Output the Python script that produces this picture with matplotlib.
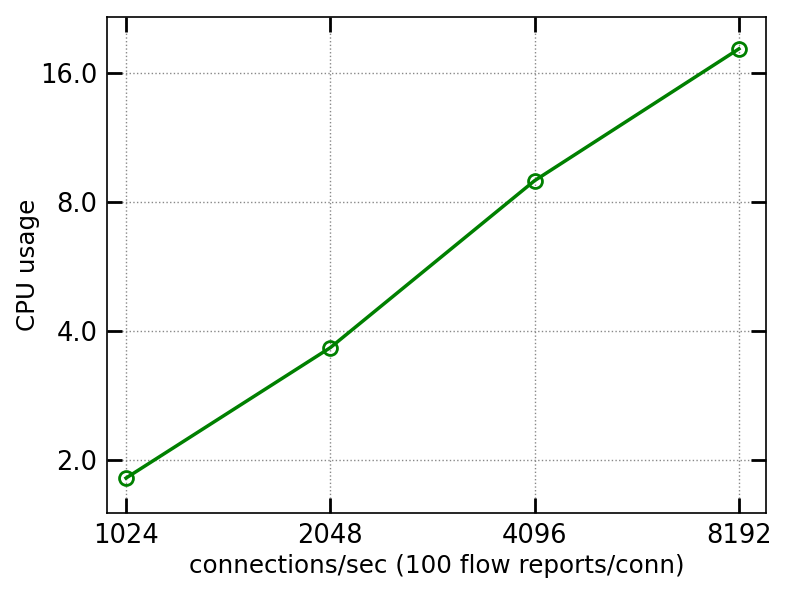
import matplotlib
matplotlib.use('Agg')
import matplotlib.pyplot as plt
from matplotlib.ticker import FixedLocator, FixedFormatter, NullLocator

# Datos
conns = [1024, 2048, 4096, 8192]
cpu = [1.81, 3.65, 8.96, 18.2]
xtick_labels = ['1024', '2048', '4096', '8192']
yticks = [2.0, 4.0, 8.0, 16.0]
ytick_labels = ['2.0', '4.0', '8.0', '16.0']

fig = plt.figure(figsize=(7.89, 5.92), dpi=100)
ax = fig.add_axes([107 / 789, 1 - 513 / 592, (766 - 107) / 789, (513 - 17) / 592])

ax.plot(conns, cpu, color='#008000', linewidth=2.5, marker='o', markersize=10,
        markerfacecolor='none', markeredgecolor='#008000', markeredgewidth=2)

ax.set_xscale('log', base=2)
ax.set_yscale('log', base=2)
ax.set_xlim(960, 8980)
ax.set_ylim(1.5, 21.6)

ax.xaxis.set_major_locator(FixedLocator(conns))
ax.xaxis.set_major_formatter(FixedFormatter(xtick_labels))
ax.xaxis.set_minor_locator(NullLocator())
ax.yaxis.set_major_locator(FixedLocator(yticks))
ax.yaxis.set_major_formatter(FixedFormatter(ytick_labels))
ax.yaxis.set_minor_locator(NullLocator())

ax.tick_params(which='major', direction='in', length=10.5, width=2, labelsize=18.5,
               top=True, right=True, pad=7)
for s in ax.spines.values():
    s.set_linewidth(1.2)

ax.grid(True, linestyle=':', color='#888888', linewidth=1)

ax.set_xlabel('connections/sec (100 flow reports/conn)', fontsize=17.7, labelpad=4)
ax.set_ylabel('CPU usage', fontsize=17.7, labelpad=0)

fig.savefig('out.png', dpi=100)
